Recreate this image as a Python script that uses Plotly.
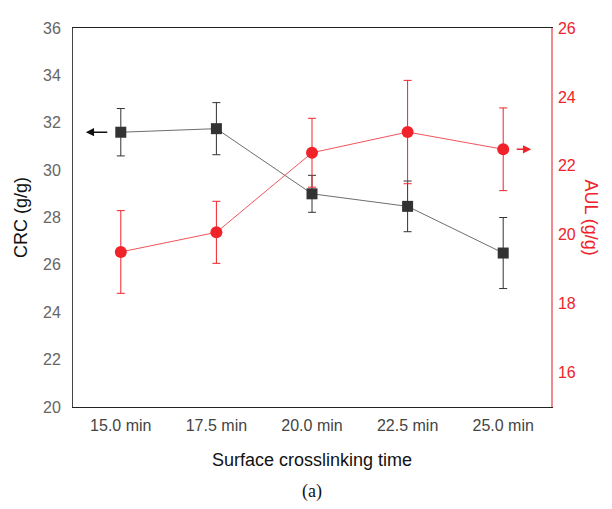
import plotly.graph_objects as go

categories = ["15.0 min", "17.5 min", "20.0 min", "22.5 min", "25.0 min"]
crc = [31.6, 31.75, 29.0, 28.47, 26.5]
crc_err = [1.0, 1.1, 0.78, 1.07, 1.5]
aul = [19.5, 20.07, 22.38, 22.98, 22.48]
aul_err = [1.2, 0.9, 1.0, 1.5, 1.2]

RED = "#f0232b"
FONT = "Liberation Sans, Arial, sans-serif"

fig = go.Figure()
fig.add_trace(go.Scatter(
    x=categories, y=crc, mode="lines+markers", name="CRC",
    line=dict(color="#6e6e6e", width=1),
    marker=dict(symbol="square", size=11, color="#333333"),
    error_y=dict(type="data", array=crc_err, color="#333333", thickness=1, width=4),
    yaxis="y"))
fig.add_trace(go.Scatter(
    x=categories, y=aul, mode="lines+markers", name="AUL",
    line=dict(color="#f2545a", width=1),
    marker=dict(symbol="circle", size=12, color=RED),
    error_y=dict(type="data", array=aul_err, color=RED, thickness=1, width=4),
    yaxis="y2"))

fig.update_layout(
    width=596, height=493,
    margin=dict(l=65, r=53, t=12, b=94),
    paper_bgcolor="white", plot_bgcolor="white",
    showlegend=False,
    font=dict(family=FONT, size=16, color="#555555"),
    xaxis=dict(
        type="category", range=[-0.5, 4.5],
        showline=True, linecolor="#222222", linewidth=1, mirror=True,
        showgrid=False, ticks="", zeroline=False,
        tickfont=dict(size=16, color="#444444"),
        ticklabelstandoff=4,
        title=dict(text="Surface crosslinking time", font=dict(size=18, color="#111111"), standoff=20),
    ),
    yaxis=dict(
        range=[20, 36], dtick=2, showline=True, linecolor="#444444", linewidth=1,
        showgrid=False, zeroline=False, ticks="",
        tickfont=dict(size=16, color="#666666"),
        ticklabelstandoff=8,
        title=dict(text="CRC (g/g)", font=dict(size=18, color="#111111"), standoff=10),
    ),
    yaxis2=dict(
        range=[15, 26], dtick=2, tick0=16, overlaying="y", side="right",
        showline=True, linecolor="#f08a8e", linewidth=1.5,
        showgrid=False, zeroline=False, ticks="",
        tickfont=dict(size=16, color=RED),
        ticklabelstandoff=2,
    ),
    annotations=[
        dict(text="AUL (g/g)", textangle=90, xref="paper", yref="paper",
             x=1.0, y=0.5, xanchor="left", yanchor="middle", xshift=28,
             showarrow=False, font=dict(size=18, color=RED, family=FONT)),
        dict(text="(a)", xref="paper", yref="paper", x=0.5, y=0, yshift=-84,
             xanchor="center", yanchor="middle", showarrow=False,
             font=dict(size=18, color="#111111", family="Liberation Serif, Times New Roman, serif")),
        dict(x=categories[0], y=crc[0], xref="x", yref="y", text="",
             showarrow=True, arrowhead=2, arrowsize=1.1, arrowwidth=1.5, arrowcolor="#111111",
             xshift=-35, ax=23, ay=0, standoff=0, startstandoff=0),
        dict(x=categories[-1], y=aul[-1], xref="x", yref="y2", text="",
             showarrow=True, arrowhead=2, arrowsize=1.1, arrowwidth=1.5, arrowcolor=RED,
             xshift=28, ax=-16, ay=0, standoff=0, startstandoff=0),
    ],
)

fig.write_html("out.html")
